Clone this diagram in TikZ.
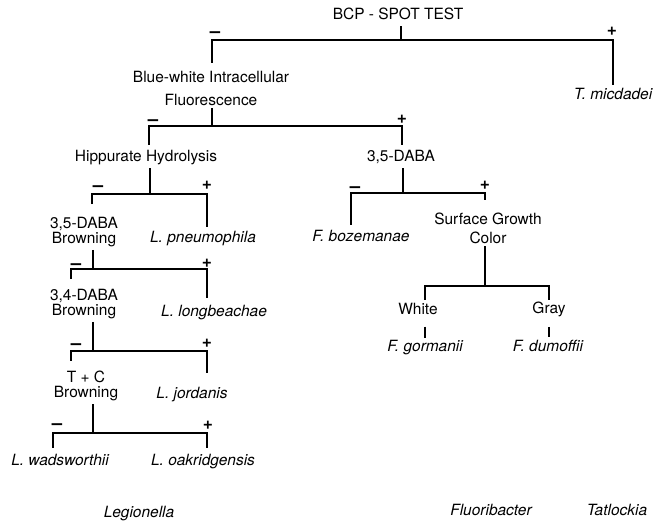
\documentclass[tikz,border=0pt]{standalone}
\usepackage{fontspec}
\setmainfont{TeX Gyre Heros}
\tikzset{
    testnode/.style = {align=center, inner sep=2pt, font=\fontsize{11.6}{11.6}\selectfont},
    testnodew/.style = {align=center, inner sep=2pt, font=\fontsize{11.6}{14.25}\selectfont},
    testnodewide/.style = {align=center, inner sep=2pt, font=\fontsize{11.6}{17.25}\selectfont},
    onenode/.style = {inner sep=2pt, text height=8.5pt, text depth=2.5pt, font=\fontsize{11.6}{13}\selectfont},
    taxnode/.style = {onenode, font=\fontsize{11.6}{13}\selectfont\itshape},
    minusnode/.style = {inner sep=0pt, font=\fontsize{14}{14}\selectfont\bfseries},
    plusnode/.style = {inner sep=0pt, font=\fontsize{13}{13}\selectfont\bfseries},
    edgen/.style = {-, line width=1.55pt, black},
}

\begin{document}
\begin{tikzpicture}[x=0.75pt, y=-0.75pt]
  \useasboundingbox (0,0) rectangle (654,524);
  % tests
  \node[onenode] (bcp) at (398,16) {BCP - SPOT TEST};
  \node[testnodewide] (blue) at (211,88) {Blue-white Intracellular\\Fluorescence};
  \node[onenode] (hipp) at (146,158) {Hippurate Hydrolysis};
  \node[onenode] (dabar) at (401,158) {3,5-DABA};
  \node[testnode] (browna) at (84,232) {3,5-DABA\\Browning};
  \node[testnode] (brownb) at (84,304) {3,4-DABA\\Browning};
  \node[testnode] (brownc) at (86,386) {T + C\\Browning};
  \node[testnodew] (surf) at (488,228) {Surface Growth\\Color};
  \node[onenode] (white) at (418,311) {White};
  \node[onenode] (gray) at (549,310) {Gray};
  % species
  \node[taxnode, anchor=west] (tmic) at (571,96) {T. micdadei};
  \node[taxnode] (pneu) at (203,239) {L. pneumophila};
  \node[taxnode] (longb) at (214,312) {L. longbeachae};
  \node[taxnode] (jord) at (192,394) {L. jordanis};
  \node[taxnode] (wads) at (60,461) {L. wadsworthii};
  \node[taxnode] (oak) at (203,461) {L. oakridgensis};
  \node[taxnode] (boz) at (361,238) {F. bozemanae};
  \node[taxnode] (gorm) at (425,348) {F. gormanii};
  \node[taxnode] (dum) at (548,347) {F. dumoffii};
  % genera
  \node[taxnode] (legion) at (139,513) {Legionella};
  \node[taxnode] (fluori) at (491,511) {Fluoribacter};
  \node[taxnode] (tatl) at (617,511) {Tatlockia};

  % BCP spot test
  \coordinate (s1) at (401,40);
  \draw[edgen] (bcp.south -| s1) -- (s1);
  \draw[edgen] ([shift={(1,-5)}]blue.north) |- (s1) -| ([shift={(42,-11)}]tmic.west);
  \node[minusnode] (m1) at (215,35) {\textendash};
  \node[plusnode] (p1) at (612,31) {+};

  % fluorescence
  \coordinate (s2) at (212,126);
  \draw[edgen] (blue.south -| s2) -- (s2);
  \draw[edgen] ([shift={(3,-3)}]hipp.north) |- (s2) -| ([shift={(1,-3)}]dabar.north);
  \node[minusnode] (m2) at (153,123) {\textendash};
  \node[plusnode] (p2) at (402,119) {+};

  % hippurate
  \coordinate (s3) at (150,194);
  \draw[edgen] (hipp.south -| s3) -- (s3);
  \draw[edgen] ([shift={(8,-10)}]browna.north) |- (s3) -| ([shift={(4,-2)}]pneu.north);
  \node[minusnode] (m3) at (98,189) {\textendash};
  \node[plusnode] (p3) at (207,185) {+};

  % 3,5-DABA browning
  \coordinate (s4) at (93,269);
  \draw[edgen] (browna.south -| s4) -- (s4);
  \draw[edgen] ([shift={(-13,-7)}]brownb.north) |- (s4) -| ([shift={(-7,-4)}]longb.north);
  \node[minusnode] (m4) at (76,267) {\textendash};
  \node[plusnode] (p4) at (207,263) {+};

  % 3,4-DABA browning
  \coordinate (s5) at (93,351);
  \draw[edgen] (brownb.south -| s5) -- (s5);
  \draw[edgen] ([shift={(-15,-7)}]brownc.north) |- (s5) -| ([shift={(15,-11)}]jord.north);
  \node[minusnode] (m5) at (76,347) {\textendash};
  \node[plusnode] (p5) at (207,343) {+};

  % T + C browning
  \coordinate (s6) at (93,433);
  \draw[edgen] (brownc.south -| s6) -- (s6);
  \draw[edgen] ([shift={(-7,-3)}]wads.north) |- (s6) -| ([shift={(4,-3)}]oak.north);
  \node[minusnode] (m6) at (57,427) {\textendash};
  \node[plusnode] (p6) at (208,425) {+};

  % 3,5-DABA
  \coordinate (s7) at (403,193);
  \draw[edgen] (dabar.south -| s7) -- (s7);
  \draw[edgen] ([shift={(-10,-3)}]boz.north) |- (s7) -| ([shift={(-3,-10)}]surf.north);
  \node[minusnode] (m7) at (355,190) {\textendash};
  \node[plusnode] (p7) at (485,185) {+};

  % surface growth color
  \coordinate (s8) at (485,286);
  \draw[edgen] (surf.south -| s8) -- (s8);
  \draw[edgen] ([shift={(7,-1)}]white.north) |- (s8) -| (gray.north);
  \draw[edgen, shorten <=4pt] (white.south -| gorm.north) -- (gorm.north);
  \draw[edgen, shorten <=5pt] (gray.south) -- (gray.south |- dum.north);
\end{tikzpicture}
\end{document}
